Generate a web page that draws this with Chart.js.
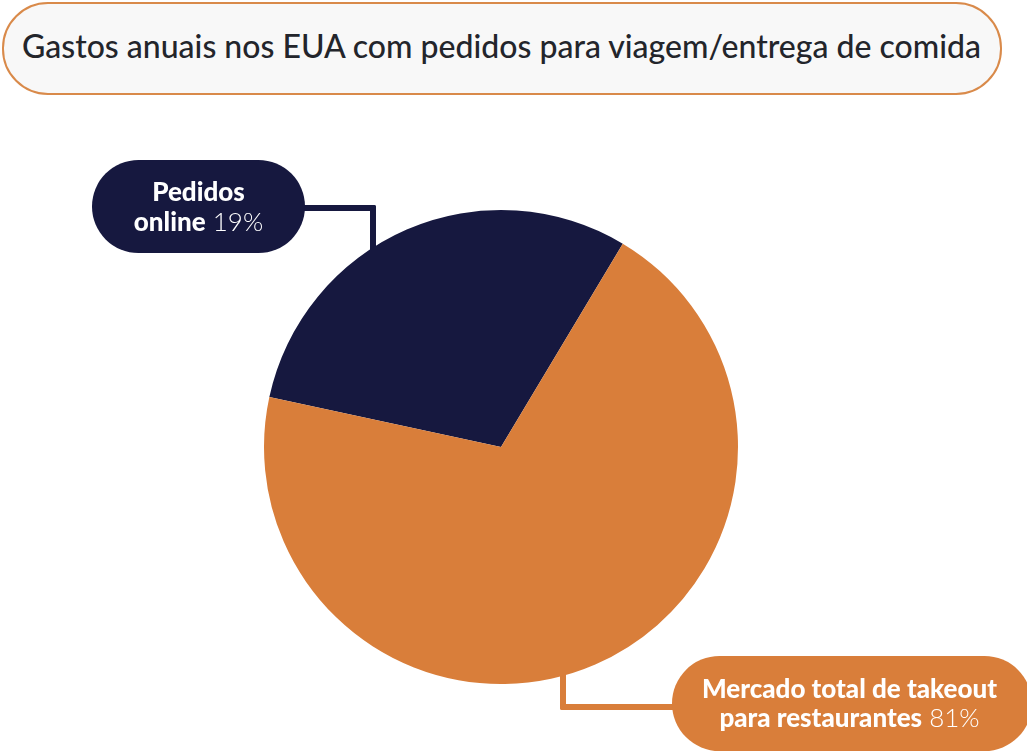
<!DOCTYPE html>
<html>
<head>
<meta charset="utf-8">
<script src="https://cdn.jsdelivr.net/npm/chart.js@4"></script>
<style>
  html, body { margin:0; padding:0; background:#ffffff; }
  body { width:1027px; height:751px; position:relative; overflow:hidden; font-family:"Lato","Open Sans",sans-serif; }
  #c { position:absolute; left:0; top:0; }
  .title {
    position:absolute; left:2px; top:2px; width:996px; height:89px;
    border:2px solid #d98a4a; border-radius:46px; background:#f8f8f8;
    box-sizing:content-box;
  }
  .title span {
    position:absolute; left:18px; top:23px; font-size:32px; line-height:38px; color:#23252b; font-weight:500; white-space:nowrap;
  }
  .pill { position:absolute; color:#fff; text-align:center; font-size:26px; line-height:30px; }
  .pill b { font-weight:900; }
  .pill .n { font-weight:300; }
  .pill.dark { left:92px; top:160px; width:213px; height:93px; border-radius:47px; background:#16183f; }
  .pill.orange { left:672px; top:656px; width:360px; height:95px; border-radius:48px; background:#d97e3a; }
  .pill div { position:absolute; left:0; right:0; white-space:nowrap; }
  .pill.orange div { right:5px; }
  .seg { position:absolute; }
</style>
</head>
<body>
<div class="seg" style="left:300px;top:205px;width:76px;height:6px;background:#16183f;border-radius:2px"></div>
<div class="seg" style="left:370px;top:205px;width:6px;height:50px;background:#16183f;border-radius:2px"></div>
<div class="seg" style="left:560px;top:660px;width:6px;height:50px;background:#d97e3a;border-radius:2px"></div>
<div class="seg" style="left:560px;top:704px;width:120px;height:6px;background:#d97e3a;border-radius:2px"></div>
<canvas id="c" width="1027" height="751"></canvas>
<div class="title"><span id="titleText"></span></div>
<div class="pill dark" id="pill0"></div>
<div class="pill orange" id="pill1"></div>
<script>
// ---- data ----
const chartTitle = "Gastos anuais nos EUA com pedidos para viagem/entrega de comida";
const categories = ["Pedidos online", "Mercado total de takeout para restaurantes"];
const labelLines = [["Pedidos", "online"], ["Mercado total de takeout", "para restaurantes"]];
const labelPercents = ["19%", "81%"];
// slice shares as drawn in the picture (percent of the circle)
const sliceShares = [30.2, 69.8];
const sliceColors = ["#16183f", "#d97e3a"];

document.getElementById('titleText').textContent = chartTitle;

function fillPill(id, lines, pct, tops) {
  const el = document.getElementById(id);
  lines.forEach((ln, i) => {
    const d = document.createElement('div');
    d.style.top = tops[i] + 'px';
    const b = document.createElement('b');
    b.textContent = ln;
    d.appendChild(b);
    if (i === lines.length - 1) {
      const s = document.createElement('span');
      s.className = 'n';
      s.textContent = ' ' + pct;
      d.appendChild(s);
    }
    el.appendChild(d);
  });
}
fillPill('pill0', labelLines[0], labelPercents[0], [16, 46]);
fillPill('pill1', labelLines[1], labelPercents[1], [17, 46]);

new Chart(document.getElementById('c'), {
  type: 'pie',
  data: {
    labels: categories,
    datasets: [{
      data: sliceShares,
      backgroundColor: sliceColors,
      borderWidth: 0,
      hoverOffset: 0
    }]
  },
  options: {
    responsive: false,
    animation: false,
    rotation: -77.8,
    layout: { padding: { left: 264, right: 289, top: 210, bottom: 67 } },
    plugins: { legend: { display: false }, tooltip: { enabled: false }, title: { display: false } }
  }
});
</script>
</body>
</html>
